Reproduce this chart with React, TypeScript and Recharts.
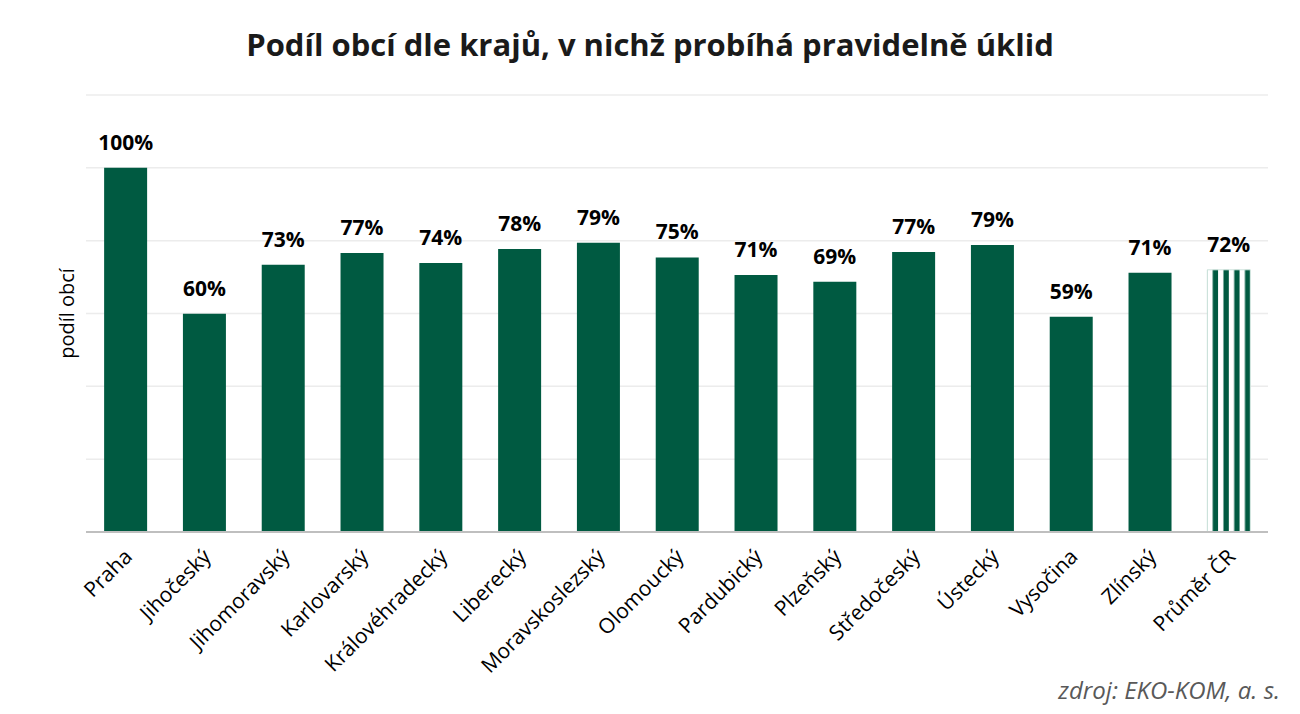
import React from "react";
import {
  BarChart,
  Bar,
  XAxis,
  YAxis,
  CartesianGrid,
  Cell,
  LabelList,
} from "recharts";

const regions = [
  "Praha",
  "Jihočeský",
  "Jihomoravský",
  "Karlovarský",
  "Královéhradecký",
  "Liberecký",
  "Moravskoslezský",
  "Olomoucký",
  "Pardubický",
  "Plzeňský",
  "Středočeský",
  "Ústecký",
  "Vysočina",
  "Zlínský",
  "Průměr ČR",
];

// share of municipalities, %
const shares = [100, 59.9, 73.4, 76.6, 73.9, 77.7, 79.4, 75.4, 70.6, 68.7, 76.9, 78.8, 59.1, 71.2, 72.0];

const yTicks = [0, 20, 40, 60, 80, 100, 120];

const GREEN = "#005a41";
const FONT = "'Open Sans', 'Noto Sans', sans-serif";

const data = regions.map((name, i) => ({
  name,
  value: shares[i],
  avg: name === "Průměr ČR",
}));

function RotatedTick(props: any) {
  const { x, y, payload } = props;
  return (
    <g transform={`translate(${x + 8},${y + 18})`}>
      <text
        transform="rotate(-45)"
        textAnchor="end"
        fontSize={21}
        fontFamily={FONT}
        fill="#000"
      >
        {payload.value}
      </text>
    </g>
  );
}

function ValueLabel(props: any) {
  const { x, y, width, value } = props;
  return (
    <text
      x={x + width / 2}
      y={y - 18}
      textAnchor="middle"
      fontSize={21}
      fontWeight="bold"
      fontFamily={FONT}
      fill="#000"
    >
      {`${Math.round(value)}%`}
    </text>
  );
}

export default function App() {
  return (
    <div
      style={{
        position: "absolute",
        left: 0,
        top: 0,
        width: 1300,
        height: 714,
        background: "#fff",
        fontFamily: FONT,
      }}
    >
      <div
        style={{
          position: "absolute",
          top: 23,
          left: 0,
          width: 1300,
          textAlign: "center",
          fontSize: 31,
          fontWeight: "bold",
          color: "#1a1a1a",
        }}
      >
        Podíl obcí dle krajů, v nichž probíhá pravidelně úklid
      </div>
      <BarChart
        width={1300}
        height={714}
        data={data}
        margin={{ top: 95, right: 32, left: 0, bottom: 32 }}
        barCategoryGap="23%"
      >
        <defs>
          <pattern
            id="stripes"
            patternUnits="objectBoundingBox"
            patternContentUnits="objectBoundingBox"
            width={0.25}
            height={1}
          >
            <rect x={0} y={0} width={0.25} height={1} fill="#fff" />
            <rect x={0.125} y={0} width={0.125} height={1} fill={GREEN} />
          </pattern>
        </defs>
        <CartesianGrid vertical={false} stroke="#ececec" strokeWidth={1.5} />
        <XAxis
          dataKey="name"
          interval={0}
          height={150}
          tick={<RotatedTick />}
          tickLine={false}
          axisLine={{ stroke: "#bfbfbf", strokeWidth: 2 }}
        />
        <YAxis
          domain={[0, 120]}
          ticks={yTicks}
          tick={() => <g />}
          tickLine={false}
          axisLine={false}
          width={86}
          label={{
            value: "podíl obcí",
            angle: -90,
            position: "insideLeft",
            dx: 62,
            style: { fontSize: 20, fill: "#000", fontFamily: FONT, textAnchor: "middle" },
          }}
        />
        <Bar dataKey="value" isAnimationActive={false}>
          {data.map((d) => (
            <Cell
              key={d.name}
              fill={d.avg ? "url(#stripes)" : GREEN}
              stroke={d.avg ? "#cde3dc" : "none"}
            />
          ))}
          <LabelList dataKey="value" content={<ValueLabel />} />
        </Bar>
      </BarChart>
      <div
        style={{
          position: "absolute",
          right: 20,
          top: 673,
          fontSize: 24,
          fontStyle: "italic",
          color: "#595959",
        }}
      >
        zdroj: EKO-KOM, a. s.
      </div>
    </div>
  );
}
